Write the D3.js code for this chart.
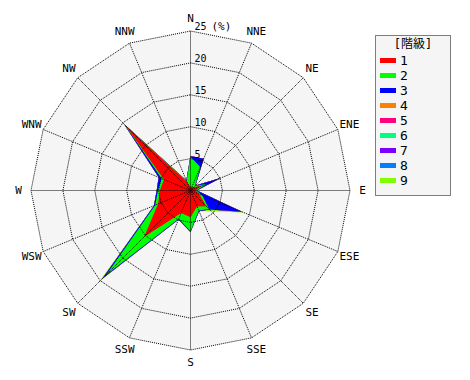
<!DOCTYPE html>
<html><head><meta charset="utf-8">
<script src="https://cdn.jsdelivr.net/npm/d3@7"></script>
<style>
html,body{margin:0;padding:0;background:#fff;}
svg{display:block;}
text{font-family:"DejaVu Sans Mono","Noto Sans CJK JP",monospace;}
</style></head>
<body>
<svg id="c" width="470" height="380"></svg>
<script>
const directions = ["N","NNE","NE","ENE","E","ESE","SE","SSE","S","SSW","SW","WSW","W","WNW","NW","NNW"];
const classNames = ["1","2","3","4","5","6","7","8","9"];
const classColors = ["#ff0000","#00ff00","#0000ff","#ff8000","#ff0080","#00ff80","#8000ff","#0080ff","#80ff00"];
const radialTicks = [5,10,15,20,25];
const legendTitle = "[階級]";
const unitLabel = "(%)";

// frequency (%) per class, per direction (N, NNE, ... NNW)
const class1 = [0.6, 0.6, 0.8, 1.8, 0.8, 1.5, 3.5, 2.7, 4.2, 3.8, 10.3, 5.5, 4.8, 4.5, 14.3, 1.5];
const class2 = [4.7, 3.4, 0.2, 1.0, 0.1, 0.5, 0.6, 0.7, 2.2, 1.0, 8.3, 0.5, 0.3, 0.4, 0.2, 0.1];
const class3 = [0.1, 1.4, 0.1, 2.3, 0.1, 6.7, 0.1, 0.1, 0.1, 0.1, 0.9, 0.2, 0.2, 0.5, 0.2, 0.1];
const class4 = [0,0,0,0,0,0,0,0,0,0,0,0,0,0,0,0];
const class5 = [0,0,0,0,0,0,0,0,0,0,0,0,0,0,0,0];
const class6 = [0,0,0,0,0,0,0,0,0,0,0,0,0,0,0,0];
const class7 = [0,0,0,0,0,0,0,0,0,0,0,0,0,0,0,0];
const class8 = [0,0,0,0,0,0,0,0,0,0,0,0,0,0,0,0];
const class9 = [0, 0, 0, 0, 0, 0.3, 0.4, 0, 0, 0, 0.8, 0, 0, 0, 0, 0];
const classValues = [class1,class2,class3,class4,class5,class6,class7,class8,class9];

const rows = directions.map((d,i)=>{
  const o = {dir:d};
  classNames.forEach((c,k)=>{ o[c] = classValues[k][i]; });
  return o;
});

const svg = d3.select("#c");
const cx = 190.5, cy = 190.5;
const r = d3.scaleLinear().domain([0,25]).range([0,159.5]);
const ang = d3.scaleLinear().domain([0,directions.length]).range([0,2*Math.PI]);
const g = svg.append("g").attr("transform",`translate(${cx},${cy})`);

const ringLine = d3.lineRadial().angle((d,i)=>ang(i)).radius(d=>r(d)).curve(d3.curveLinearClosed);

// background polygon
g.append("path").attr("d", ringLine(directions.map(()=>25))).attr("fill","#f5f5f5").attr("stroke","none");

// stacked areas
const stack = d3.stack().keys(classNames);
const series = stack(rows);
const areaLine = d3.lineRadial().angle((d,i)=>ang(i)).radius(d=>r(d[1])).curve(d3.curveLinearClosed);
for(let k=series.length-1;k>=0;k--){
  g.append("path").attr("d", areaLine(series[k])).attr("fill", classColors[k]).attr("stroke","none");
}

// grid rings
radialTicks.forEach(t=>{
  g.append("path").attr("d", ringLine(directions.map(()=>t)))
   .attr("fill","none").attr("stroke","#000").attr("stroke-width",1).attr("stroke-dasharray","1,1");
});
// spokes
directions.forEach((d,i)=>{
  const a = ang(i);
  g.append("line").attr("x1",0).attr("y1",0)
   .attr("x2", r(25)*Math.sin(a)).attr("y2", -r(25)*Math.cos(a))
   .attr("stroke","#000").attr("stroke-width",1).attr("stroke-dasharray","1,1");
});

// tick labels
radialTicks.forEach(t=>{
  g.append("text").attr("x",4).attr("y",-r(t)-1).attr("font-size",10).attr("fill","#000").text(t);
});
g.append("text").attr("x",21).attr("y",-r(25)-1).attr("font-size",11).attr("fill","#000").text(unitLabel);

// direction labels
directions.forEach((d,i)=>{
  const a = ang(i), rr = 172;
  g.append("text").attr("x", rr*Math.sin(a)).attr("y", -rr*Math.cos(a))
   .attr("text-anchor","middle").attr("dominant-baseline","central")
   .attr("font-size",11).attr("fill","#000").text(d);
});

// legend
const lg = svg.append("g");
lg.append("rect").attr("x",375.5).attr("y",35.5).attr("width",75).attr("height",160)
  .attr("fill","#f5f5f5").attr("stroke","#000").attr("stroke-dasharray","1,1");
lg.append("text").attr("x",413).attr("y",48).attr("text-anchor","middle").attr("font-size",12).attr("fill","#000").text(legendTitle);
classNames.forEach((c,k)=>{
  const y = 60 + 15*k;
  lg.append("rect").attr("x",380).attr("y",y-2).attr("width",16).attr("height",5).attr("fill",classColors[k]);
  lg.append("text").attr("x",400).attr("y",y+4.5).attr("font-size",13).attr("fill","#000").text(c);
});
</script>
</body></html>
